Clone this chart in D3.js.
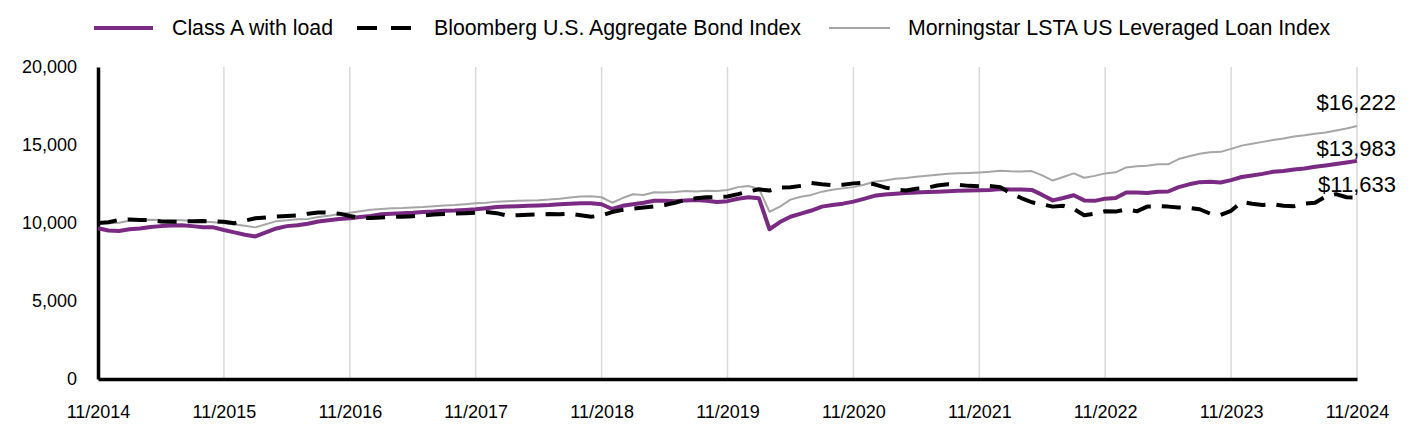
<!DOCTYPE html>
<html>
<head>
<meta charset="utf-8">
<script src="https://cdn.jsdelivr.net/npm/d3@7"></script>
<style>
  html, body { margin: 0; padding: 0; background: #fff; }
  svg { display: block; }
  text { font-family: "Liberation Sans", Arial, sans-serif; fill: #000; }
</style>
</head>
<body>
<svg id="chart" width="1416" height="444"></svg>
<script>
// ---- DATA (monthly, 11/2014 .. 11/2024) ----
const tickLabels = ["11/2014","11/2015","11/2016","11/2017","11/2018","11/2019","11/2020","11/2021","11/2022","11/2023","11/2024"];
const yTicks = [0, 5000, 10000, 15000, 20000];

const classA = [
  9660, 9520, 9487, 9600, 9650, 9740, 9800, 9840, 9850, 9800, 9730, 9720,
  9550, 9400, 9250, 9140, 9400, 9650, 9800, 9850, 9950, 10100, 10180, 10250,
  10300, 10380, 10450, 10560, 10600, 10620, 10650, 10700, 10730, 10780, 10800, 10840,
  10880, 10950, 11020, 11050, 11080, 11100, 11120, 11150, 11200, 11230, 11260, 11260,
  11200, 10900, 11100, 11200, 11300, 11430, 11420, 11400, 11450, 11480, 11420, 11350,
  11400, 11550, 11650, 11580, 9600, 10060, 10400, 10600, 10800, 11050, 11150, 11240,
  11370, 11550, 11740, 11830, 11880, 11920, 11960, 11990, 12010, 12040, 12070, 12080,
  12100, 12110, 12180, 12150, 12140, 12120, 11800, 11450, 11600, 11780, 11450, 11420,
  11560, 11600, 11950, 11960, 11920, 12010, 12020, 12300, 12480, 12620, 12650, 12600,
  12750, 12950, 13050, 13150, 13280, 13330, 13430, 13500, 13600, 13690, 13780, 13880,
  13983
];
const bloomberg = [
  10000, 10050, 10200, 10230, 10200, 10180, 10100, 10080, 10090, 10120, 10130, 10100,
  10080, 9990, 10150, 10300, 10360, 10410, 10450, 10480, 10600, 10680, 10660, 10600,
  10450, 10320, 10320, 10360, 10390, 10400, 10440, 10480, 10540, 10580, 10600, 10620,
  10660, 10700, 10630, 10470, 10500, 10530, 10560, 10570, 10560, 10600, 10500, 10400,
  10480, 10700, 10840, 10920, 10990, 11070, 11150, 11300, 11480, 11580, 11650, 11660,
  11700, 11850, 12020, 12160, 12080, 12280, 12290, 12380, 12560, 12480, 12420, 12450,
  12540, 12580, 12480, 12280, 12150, 12080, 12200, 12250, 12400, 12480, 12450, 12380,
  12360, 12380, 12300, 11900, 11600, 11330, 11200, 11050, 11100, 10900, 10500, 10600,
  10750, 10730, 10880, 10750, 11050, 11080, 11050, 11000, 10960, 10880, 10600, 10520,
  10780, 11350, 11230, 11160, 11210, 11100, 11080, 11250, 11300, 11690, 11850, 11650,
  11633
];
const lsta = [
  10000, 9980, 10010, 10150, 10200, 10210, 10200, 10190, 10180, 10130, 10090, 10050,
  9990, 9900, 9830, 9720, 9920, 10120, 10170, 10240, 10260, 10380, 10470, 10570,
  10660, 10760, 10850, 10900, 10940, 10960, 11000, 11020, 11080, 11120, 11150, 11200,
  11260, 11300, 11370, 11400, 11420, 11440, 11460, 11500, 11560, 11640, 11700, 11720,
  11650, 11300, 11600, 11840, 11800, 11970, 11960, 11980, 12050, 12020, 12060, 12050,
  12120, 12300, 12370, 12200, 10720, 11050, 11500, 11680, 11800, 12010, 12130, 12220,
  12300, 12450, 12640, 12720, 12830, 12880, 12960, 13030, 13100, 13150, 13190, 13210,
  13240, 13280, 13350, 13310, 13300, 13330, 13050, 12720, 12950, 13180, 12900, 13020,
  13180, 13250, 13560, 13640, 13670, 13760, 13760, 14100, 14280, 14440, 14530, 14560,
  14750, 14960, 15080, 15200, 15320, 15420, 15540, 15620, 15720, 15800, 15930, 16060,
  16222
];
const seriesNames = ["Class A with load", "Bloomberg U.S. Aggregate Bond Index", "Morningstar LSTA US Leveraged Loan Index"];

(function () {
  const svg = d3.select("#chart");
  const mLeft = 98, mRight = 1357, mTop = 67, mBottom = 379;
  const nMonths = classA.length - 1;

  const x = d3.scaleLinear().domain([0, nMonths]).range([mLeft, mRight]);
  const y = d3.scaleLinear().domain([0, 20000]).range([mBottom, mTop]);

  const styles = [
    { data: classA,    color: "#7a2a82", width: 4, dash: null,    legendText: 172, legendLine: [94, 153] },
    { data: bloomberg, color: "#000000", width: 4, dash: "19,11", legendText: 434, legendLine: [357, 411] },
    { data: lsta,      color: "#a6a6a6", width: 2, dash: null,    legendText: 908, legendLine: [829, 890] }
  ];

  // gridlines
  const gridIdx = d3.range(12, nMonths + 1, 12);
  svg.append("g").selectAll("line").data(gridIdx).join("line")
    .attr("x1", d => x(d)).attr("x2", d => x(d))
    .attr("y1", y(0)).attr("y2", y(20000))
    .attr("stroke", "#d9d9d9").attr("stroke-width", 1.5);

  // y axis
  const yAxis = svg.append("g").attr("transform", `translate(${mLeft},0)`)
    .call(d3.axisLeft(y).tickValues(yTicks).tickFormat(d3.format(",")).tickSize(0).tickSizeOuter(0).tickPadding(21));
  yAxis.select(".domain").attr("stroke", "#000").attr("stroke-width", 3.5);
  yAxis.selectAll("text").attr("font-size", 18).attr("font-family", "Liberation Sans, Arial, sans-serif").attr("fill", "#000");

  // x axis
  const xAxis = svg.append("g").attr("transform", `translate(0,${mBottom})`)
    .call(d3.axisBottom(x).tickValues(d3.range(0, nMonths + 1, 12))
      .tickFormat((d, i) => tickLabels[i]).tickSize(0).tickSizeOuter(0).tickPadding(26));
  xAxis.select(".domain").attr("stroke", "#000").attr("stroke-width", 3.5);
  xAxis.selectAll("text").attr("font-size", 18).attr("font-family", "Liberation Sans, Arial, sans-serif").attr("fill", "#000");

  // lines
  const line = d3.line().x((d, i) => x(i)).y(d => y(d));
  [2, 0, 1].forEach(k => {
    const s = styles[k];
    svg.append("path").datum(s.data)
      .attr("d", line)
      .attr("fill", "none")
      .attr("stroke", s.color)
      .attr("stroke-width", s.width)
      .attr("stroke-linejoin", "round")
      .attr("stroke-dasharray", s.dash);
  });

  // end labels
  const endOffsets = [-13, -13, -24];
  styles.forEach((s, k) => {
    const v = s.data[s.data.length - 1];
    svg.append("text")
      .attr("x", 1396).attr("y", y(v) + endOffsets[k])
      .attr("text-anchor", "end").attr("dy", "0.35em")
      .attr("font-size", 22)
      .text("$" + d3.format(",")(v));
  });

  // legend
  const legendY = 28;
  styles.forEach((s, k) => {
    svg.append("line")
      .attr("x1", s.legendLine[0]).attr("x2", s.legendLine[1])
      .attr("y1", legendY).attr("y2", legendY)
      .attr("stroke", s.color).attr("stroke-width", s.width)
      .attr("stroke-dasharray", s.dash ? "20,14" : null);
    svg.append("text")
      .attr("x", s.legendText).attr("y", legendY).attr("dy", "0.35em")
      .attr("font-size", 21.3)
      .text(seriesNames[k]);
  });
})();
</script>
</body>
</html>
